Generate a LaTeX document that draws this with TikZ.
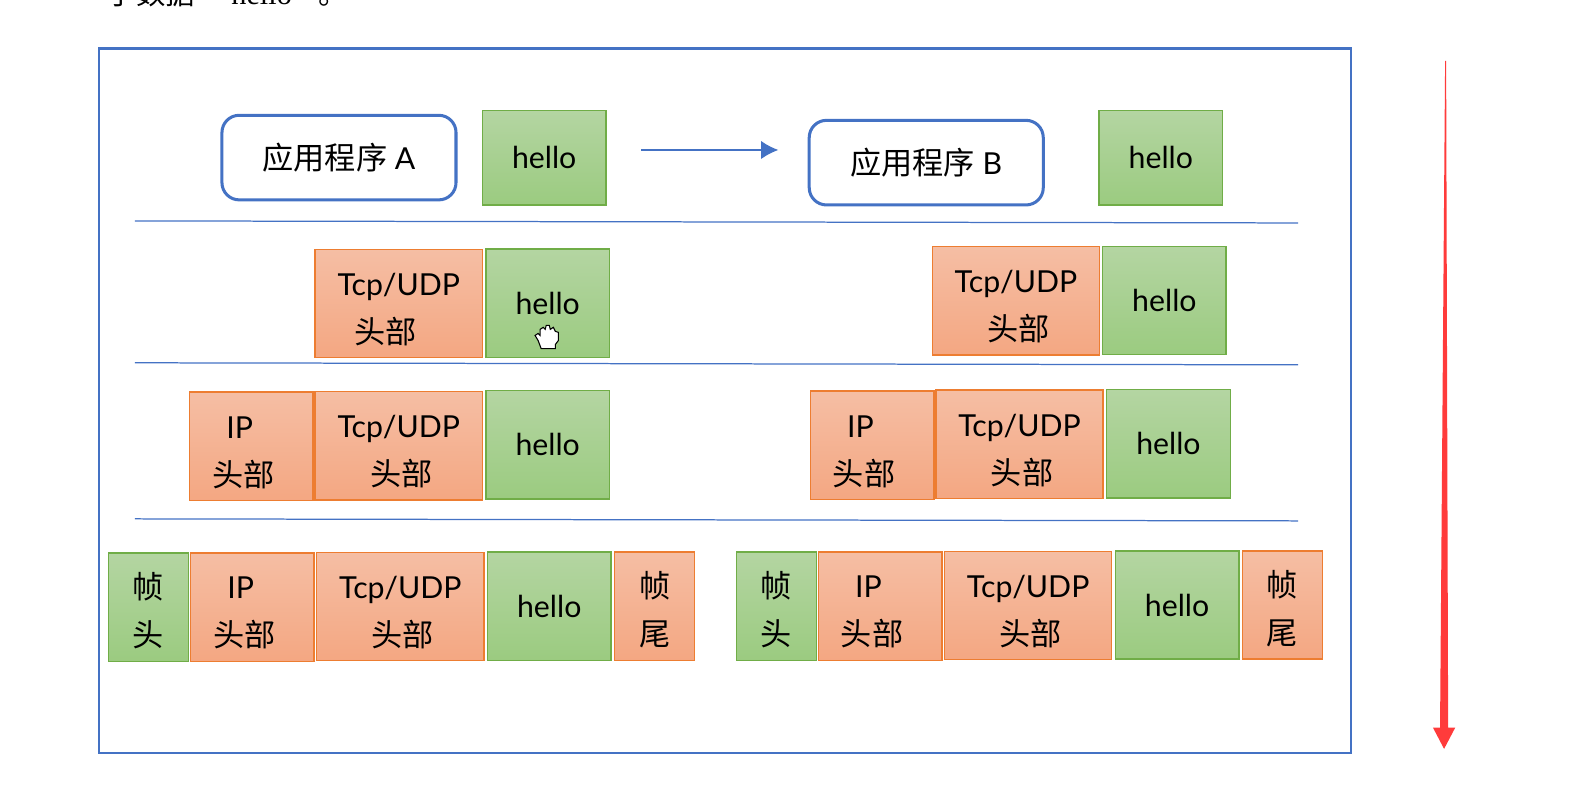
\documentclass[tikz,border=0pt]{standalone}
\usepackage{fontspec}
\setmainfont{Lato}
\newfontfamily\cjk[Scale=1.03]{Noto Sans CJK SC}
\newfontfamily\oldfont{Liberation Serif}
\newcommand{\tief}{\rule{0pt}{19pt}}
\usetikzlibrary{arrows.meta}
\definecolor{blau}{HTML}{4472C4}
\definecolor{gruen}{HTML}{70AD47}
\definecolor{gruenA}{HTML}{B4D5A2}
\definecolor{gruenB}{HTML}{9BCB80}
\definecolor{orange1}{HTML}{ED7D31}
\definecolor{orangeA}{HTML}{F5BEA4}
\definecolor{orangeB}{HTML}{F4A782}
\definecolor{rot}{HTML}{FF3B3B}

\begin{document}
\begin{tikzpicture}[x=0.02cm, y=-0.02cm,
      every node/.style={font=\fontsize{17}{27}\selectfont, inner sep=0pt, align=center},
      rahmen/.style={draw=blau, line width=1.3pt},
      trenn/.style={draw=blau, line width=0.7pt},
      app/.style={draw=blau, line width=1.7pt, rounded corners=0.34cm, minimum width=4.62cm, minimum height=1.67cm},
      gbox/.style={draw=gruen, line width=0.8pt, top color=gruenA, bottom color=gruenB, minimum height=2.14cm},
      obox/.style={draw=orange1, line width=0.8pt, top color=orangeA, bottom color=orangeB, minimum height=2.14cm},
      hellobox/.style={gbox, minimum width=2.44cm},
      tcpbox/.style={obox, minimum width=3.3cm},
      ipbox/.style={obox, minimum width=2.44cm},
      ztop/.style={gbox, minimum width=1.58cm},
      zend/.style={obox, minimum width=1.58cm},
      pfeil/.style={-{Latex[length=0.34cm, width=0.36cm]}, draw=blau, line width=0.7pt}]

\useasboundingbox (0,0) rectangle (1568,785.5);

% text cut off at the top
\node[font=\cjk\fontsize{16}{20}\selectfont, anchor=base west] (t0) at (105,4) {子数据};
\node[font=\oldfont\fontsize{17}{20}\selectfont, anchor=base west] (t1) at (228,4) {hello};
\node[font=\cjk\fontsize{16}{20}\selectfont, anchor=base west] (t2) at (314,4) {。};

\draw[rahmen] (98,48) rectangle (1333,743);

% application layer
\node[app] (appA) at (334.5,155.5) {{\cjk 应用程序} A};
\node[hellobox, minimum height=1.87cm] (h1) at (537,155.5) {hello};
\node[app] (appB) at (914,160.5) {{\cjk 应用程序} B};
\node[hellobox, minimum height=1.87cm] (h2) at (1145.5,155.5) {hello};
\coordinate (s0) at (633,148);
\coordinate (s1) at (768,148);
\draw[pfeil] (s0) -- (s1);

% separators
\coordinate (l1a) at (133,218);
\coordinate (l1b) at (1281,220);
\coordinate (l2a) at (133,358);
\coordinate (l2b) at (1281,360);
\coordinate (l3a) at (133,512);
\coordinate (l3b) at (1281,514);
\draw[trenn] (l1a) -- (l1b);
\draw[trenn] (l2a) -- (l2b);
\draw[trenn] (l3a) -- (l3b);

% transport layer
\node[tcpbox] (t2a) at (393.5,299.5) {\tief Tcp/UDP\\\hspace*{-15pt}\cjk 头部};
\node[hellobox] (h3) at (540.5,299) {hello};
\node[tcpbox] (t2b) at (1002.5,297) {\tief Tcp/UDP\\\hspace*{3pt}\cjk 头部};
\node[hellobox] (h4) at (1149,296.5) {hello};

% network layer
\node[ipbox] (ip3a) at (248,440.5) {\tief\hspace*{-13pt}IP\\\hspace*{-9pt}\cjk 头部};
\node[tcpbox] (t3a) at (393.5,440) {\tief Tcp/UDP\\\hspace*{3pt}\cjk 头部};
\node[hellobox] (h5) at (540.5,439) {hello};
\node[ipbox] (ip3b) at (860.5,439.5) {\tief\hspace*{-13pt}IP\\\hspace*{-9pt}\cjk 头部};
\node[tcpbox] (t3b) at (1006,438.5) {\tief Tcp/UDP\\\hspace*{3pt}\cjk 头部};
\node[hellobox] (h6) at (1153,438) {hello};

% link layer
\node[ztop] (z1) at (146.5,599) {\tief\cjk 帧\\\cjk 头};
\node[ipbox] (ip4a) at (249,599) {\tief\hspace*{-13pt}IP\\\hspace*{-9pt}\cjk 头部};
\node[tcpbox] (t4a) at (395,598.5) {\tief Tcp/UDP\\\hspace*{3pt}\cjk 头部};
\node[hellobox] (h7) at (542,598) {hello};
\node[zend] (z2) at (646,598) {\tief\cjk 帧\\\cjk 尾};
\node[ztop] (z3) at (766,598) {\tief\cjk 帧\\\cjk 头};
\node[ipbox] (ip4b) at (868.5,598) {\tief\hspace*{-13pt}IP\\\hspace*{-9pt}\cjk 头部};
\node[tcpbox] (t4b) at (1014.5,597.5) {\tief Tcp/UDP\\\hspace*{3pt}\cjk 头部};
\node[hellobox] (h8) at (1161.5,597) {hello};
\node[zend] (z4) at (1265.5,597) {\tief\cjk 帧\\\cjk 尾};

% hand cursor
\draw[fill=white, line width=0.6pt] (534,344) -- (531,336) -- (528,331) -- (531,329) -- (533,331) -- (533,325) -- (536,323) -- (538,325) -- (539,321) -- (542,321) -- (543,325) -- (546,323) -- (548,327) -- (551,328) -- (551,336) -- (548,340) -- (548,344) -- cycle;

% red arrow
\fill[rot] (1426,60) -- (1427,60) -- (1429,718) -- (1436,718) -- (1425,739) -- (1414,718) -- (1421,718) -- cycle;

\end{tikzpicture}
\end{document}
